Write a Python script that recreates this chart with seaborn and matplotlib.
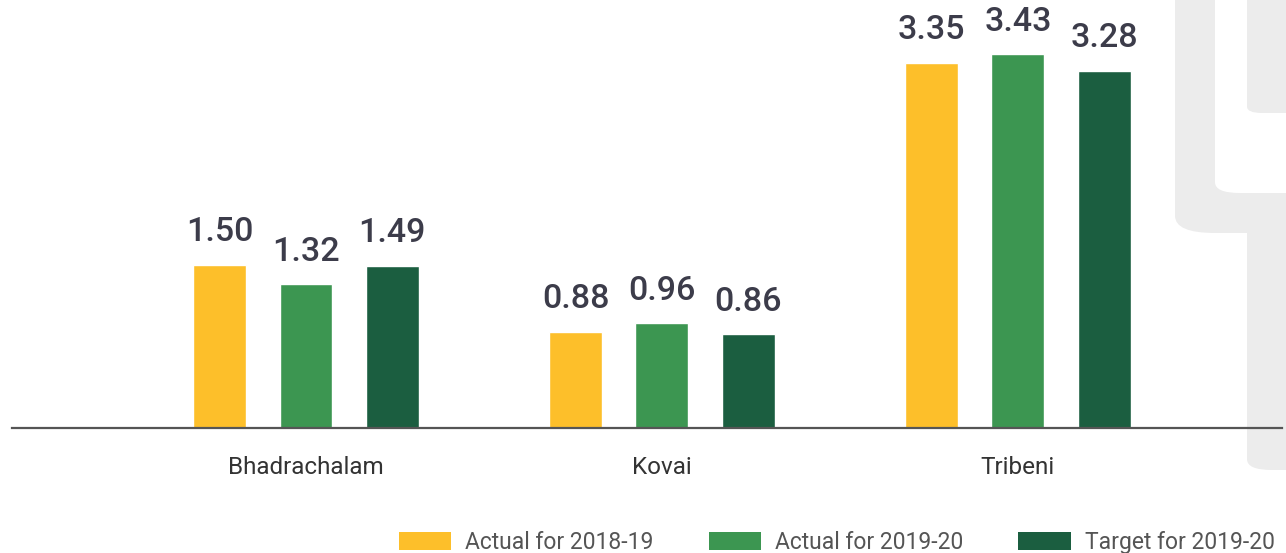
import matplotlib
matplotlib.use("Agg")
import matplotlib.pyplot as plt
from matplotlib.patches import FancyBboxPatch, Patch
import seaborn as sns
import pandas as pd

categories = ["Bhadrachalam", "Kovai", "Tribeni"]
series_names = ["Actual for 2018-19", "Actual for 2019-20", "Target for 2019-20"]
actual_2018_19 = [1.50, 0.88, 3.35]
actual_2019_20 = [1.32, 0.96, 3.43]
target_2019_20 = [1.49, 0.86, 3.28]
colors = ["#FDBF2A", "#3C9651", "#1B5E40"]

rows = []
for name, vals in zip(series_names, [actual_2018_19, actual_2019_20, target_2019_20]):
    for c, v in zip(categories, vals):
        rows.append({"plant": c, "series": name, "value": v})
df = pd.DataFrame(rows)

sns.set_theme(style="white")
plt.rcParams["font.family"] = ["Roboto", "DejaVu Sans"]

W, H = 1286, 553
fig = plt.figure(figsize=(W / 100, H / 100), dpi=100)

GRAY = "#ECECEC"

def deco(x0, y0, x1, y1, r, color, z):
    p = FancyBboxPatch((x0 / W, 1 - y1 / H), (x1 - x0) / W, (y1 - y0) / H,
                       boxstyle="round,pad=0,rounding_size=%f" % (r / W),
                       transform=fig.transFigure, facecolor=color,
                       edgecolor="none", zorder=z)
    fig.patches.append(p)

# decorative background shape (pixel coords, y from top)
deco(1175, -60, 1340, 233, 40, GRAY, -5)
deco(1215, -60, 1340, 193, 25, "white", -4)
deco(1247, -60, 1340, 113, 15, GRAY, -3)
deco(1247, 200, 1340, 470, 25, GRAY, -3)

ax = fig.add_axes([12 / W, (H - 428) / H, (1282 - 12) / W, 428 / H])
ax.patch.set_alpha(0)

sns.barplot(data=df, x="plant", y="value", hue="series", hue_order=series_names,
            palette=colors, width=0.726, gap=0.385, ax=ax, legend=False,
            saturation=1, errorbar=None)

for cont in ax.containers:
    labels = ["%.2f" % b.get_height() for b in cont]
    ax.bar_label(cont, labels=labels, padding=12, fontsize=24.5,
                 color="#3C3C4A", fontweight="medium")

ax.set_xlim(-0.826, 2.742)
ax.set_ylim(0, 3.93)
ax.set_xlabel("")
ax.set_ylabel("")
ax.set_yticks([])
for s in ["top", "left", "right"]:
    ax.spines[s].set_visible(False)
ax.spines["bottom"].set_color("#555555")
ax.spines["bottom"].set_linewidth(1.6)
ax.tick_params(axis="x", length=0, pad=20, labelsize=17.5, labelcolor="#333333")

handles = [Patch(facecolor=c, edgecolor="none") for c in colors]
fig.legend(handles, series_names, loc="lower right", ncol=3,
           bbox_to_anchor=(1286 / W, -0.022), frameon=False, fontsize=16.5,
           handlelength=2.3, handleheight=0.85, handletextpad=0.6,
           columnspacing=2.4, labelcolor="#555555", borderaxespad=0.1)

fig.savefig("out.png", dpi=100)
